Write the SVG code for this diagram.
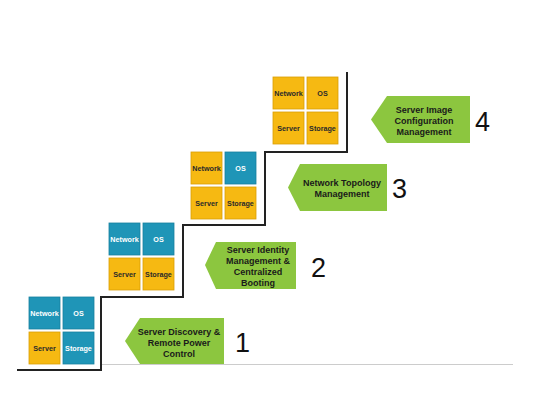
<svg xmlns="http://www.w3.org/2000/svg" width="540" height="405" viewBox="0 0 540 405">
<style>
.b{fill:#1f95b7;stroke:#17809e;stroke-width:0.8}
.y{fill:#f6b912;stroke:#d99e05;stroke-width:0.8}
.ct{font-family:"Liberation Sans",Arial,sans-serif;font-weight:bold;font-size:7.2px;text-anchor:middle}
.tw{fill:#ffffff}
.td{fill:#2a2a2a}
.g{fill:#8cc63f}
.lt{font-family:"Liberation Sans",Arial,sans-serif;font-weight:bold;font-size:9px;text-anchor:middle;fill:#1a1a1a}
.num{font-family:"Liberation Sans",Arial,sans-serif;font-size:27px;fill:#111}
</style>
<rect width="540" height="405" fill="#ffffff"/>
<g id="connectors">
<line x1="100" y1="364.5" x2="513" y2="364.5" stroke="#cccccc" stroke-width="1"/>
<path d="M17,370 H101 V297 H183 V225 H265 V152 H347 V72" fill="none" stroke="#222" stroke-width="2"/>
</g>
<g id="stack1" transform="translate(29,297)">
<rect class="b" x="0" y="0" width="31" height="32"/><text class="ct tw" x="15.5" y="18.5">Network</text>
<rect class="b" x="34" y="0" width="31" height="32"/><text class="ct tw" x="49.5" y="18.5">OS</text>
<rect class="y" x="0" y="35" width="31" height="32"/><text class="ct td" x="15.5" y="53.5">Server</text>
<rect class="b" x="34" y="35" width="31" height="32"/><text class="ct tw" x="49.5" y="53.5">Storage</text>
</g>
<g id="stack2" transform="translate(109,223)">
<rect class="b" x="0" y="0" width="31" height="32"/><text class="ct tw" x="15.5" y="18.5">Network</text>
<rect class="b" x="34" y="0" width="31" height="32"/><text class="ct tw" x="49.5" y="18.5">OS</text>
<rect class="y" x="0" y="35" width="31" height="32"/><text class="ct td" x="15.5" y="53.5">Server</text>
<rect class="y" x="34" y="35" width="31" height="32"/><text class="ct td" x="49.5" y="53.5">Storage</text>
</g>
<g id="stack3" transform="translate(191,152)">
<rect class="y" x="0" y="0" width="31" height="32"/><text class="ct td" x="15.5" y="18.5">Network</text>
<rect class="b" x="34" y="0" width="31" height="32"/><text class="ct tw" x="49.5" y="18.5">OS</text>
<rect class="y" x="0" y="35" width="31" height="32"/><text class="ct td" x="15.5" y="53.5">Server</text>
<rect class="y" x="34" y="35" width="31" height="32"/><text class="ct td" x="49.5" y="53.5">Storage</text>
</g>
<g id="stack4" transform="translate(273,77)">
<rect class="y" x="0" y="0" width="31" height="32"/><text class="ct td" x="15.5" y="18.5">Network</text>
<rect class="y" x="34" y="0" width="31" height="32"/><text class="ct td" x="49.5" y="18.5">OS</text>
<rect class="y" x="0" y="35" width="31" height="32"/><text class="ct td" x="15.5" y="53.5">Server</text>
<rect class="y" x="34" y="35" width="31" height="32"/><text class="ct td" x="49.5" y="53.5">Storage</text>
</g>
<g id="step1">
<polygon class="g" points="125,341 140,318 224,318 224,364 140,364"/>
<text class="lt" x="179" y="335">Server Discovery &amp;</text>
<text class="lt" x="179" y="346">Remote Power</text>
<text class="lt" x="179" y="357">Control</text>
<text class="num" x="235" y="352">1</text>
</g>
<g id="step2">
<polygon class="g" points="205,265 216,242 296,242 296,289 216,289"/>
<text class="lt" x="258" y="253">Server Identity</text>
<text class="lt" x="258" y="264">Management &amp;</text>
<text class="lt" x="258" y="275">Centralized</text>
<text class="lt" x="258" y="286">Booting</text>
<text class="num" x="311" y="277">2</text>
</g>
<g id="step3">
<polygon class="g" points="288,187.5 300,164 387,164 387,211 300,211"/>
<text class="lt" x="342" y="186">Network Topology</text>
<text class="lt" x="342" y="197">Management</text>
<text class="num" x="392" y="198">3</text>
</g>
<g id="step4">
<polygon class="g" points="371,119.5 387,96 470,96 470,143 387,143"/>
<text class="lt" x="424" y="113">Server Image</text>
<text class="lt" x="424" y="124">Configuration</text>
<text class="lt" x="424" y="135">Management</text>
<text class="num" x="475" y="131">4</text>
</g>
</svg>
